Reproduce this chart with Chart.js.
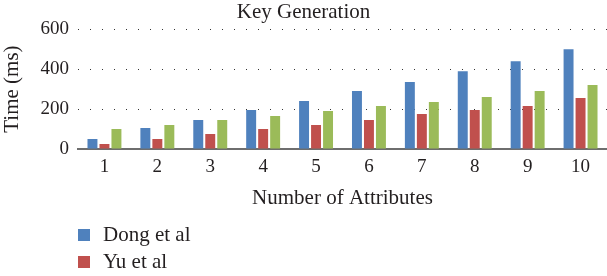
<!DOCTYPE html>
<html>
<head>
<meta charset="utf-8">
<script src="https://cdn.jsdelivr.net/npm/chart.js@4"></script>
<style>
  html, body { margin: 0; padding: 0; background: #fff; overflow: hidden; }
  #wrap { width: 607px; height: 276px; position: relative; }
</style>
</head>
<body>
<div id="wrap"><canvas id="myChart"></canvas></div>
<script>
const labels = ['1', '2', '3', '4', '5', '6', '7', '8', '9', '10'];
const dong = [50, 105, 145, 195, 240, 290, 335, 390, 440, 500];
const yu = [25, 50, 75, 100, 120, 145, 175, 195, 215, 255];
const ours = [100, 120, 145, 165, 190, 215, 235, 260, 290, 320];
const yTicks = [0, 200, 400, 600];

const fontFamily = "'Liberation Serif', 'Times New Roman', serif";
const textColor = '#231f20';

const data = {
  labels: labels,
  datasets: [
    { label: 'Dong et al', backgroundColor: '#4f81bd', data: dong },
    { label: 'Yu et al', backgroundColor: '#c0504d', data: yu },
    { label: 'Our scheme', backgroundColor: '#9bbb59', data: ours },
  ]
};

// legend stacked vertically under the axis title, drawn on the canvas
const stackedLegend = {
  id: 'stackedLegend',
  afterDraw(chart) {
    const ctx = chart.ctx;
    const top = chart.scales.x.bottom + 24;
    ctx.save();
    ctx.font = Chart.helpers.toFont({ family: fontFamily, size: 21 }).string;
    ctx.textBaseline = 'middle';
    ctx.textAlign = 'left';
    chart.data.datasets.forEach((ds, i) => {
      const y = top + i * 27;
      ctx.fillStyle = ds.backgroundColor;
      ctx.fillRect(78, y - 6, 12, 12);
      ctx.fillStyle = textColor;
      ctx.fillText(ds.label, 103, y);
    });
    ctx.restore();
  }
};

const config = {
  type: 'bar',
  data,
  options: {
    responsive: true,
    maintainAspectRatio: false,
    animation: false,
    layout: { padding: { top: 0, left: 0, right: 0, bottom: 65 } },
    datasets: {
      bar: { categoryPercentage: 0.68, barPercentage: 0.83 }
    },
    plugins: {
      legend: { display: false },
      tooltip: { enabled: false },
      title: {
        display: true,
        text: 'Key Generation',
        color: textColor,
        font: { family: fontFamily, size: 21, weight: 'normal' },
        padding: { top: 0, bottom: 4 }
      }
    },
    scales: {
      x: {
        grid: { display: false, drawTicks: false },
        border: { display: true, color: '#6e6e6e', width: 2 },
        ticks: { color: textColor, font: { family: fontFamily, size: 19 }, padding: 7 },
        title: {
          display: true,
          text: 'Number of Attributes',
          color: textColor,
          font: { family: fontFamily, size: 21 },
          padding: { top: 0, bottom: 0 }
        }
      },
      y: {
        min: 0,
        max: 600,
        afterBuildTicks: (axis) => { axis.ticks = yTicks.map(v => ({ value: v })); },
        afterFit: (axis) => { axis.width = 78; },
        border: { display: false, dash: [1, 11] },
        grid: {
          drawTicks: false,
          color: (ctx) => ctx.tick && ctx.tick.value === 0 ? 'rgba(0,0,0,0)' : '#333333',
          lineWidth: 1
        },
        ticks: { color: textColor, font: { family: fontFamily, size: 19 }, padding: 9 },
        title: {
          display: true,
          text: 'Time (ms)',
          color: textColor,
          font: { family: fontFamily, size: 21 },
          padding: { top: 0, bottom: 2 }
        }
      }
    }
  },
  plugins: [stackedLegend]
};

var myChart = new Chart(document.getElementById('myChart'), config);
</script>
</body>
</html>
